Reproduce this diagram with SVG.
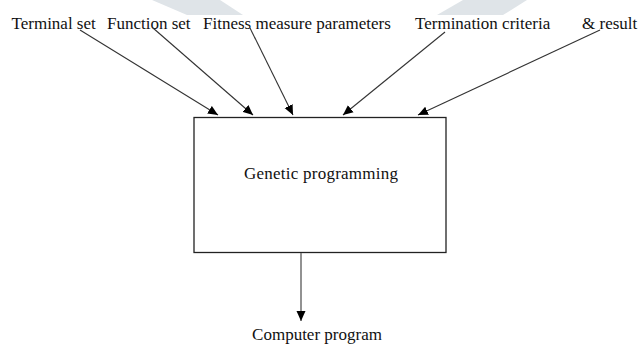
<svg xmlns="http://www.w3.org/2000/svg" width="640" height="345" viewBox="0 0 640 345">
  <style>
    .lbl { font-family: "Liberation Serif", "Times New Roman", serif; font-size: 17px; fill: #111; }
    .box { fill: #fff; stroke: #222; stroke-width: 1.3; }
    .conn { stroke: #333; stroke-width: 1.1; fill: none; marker-end: url(#tip); }
    .out { stroke: #777; stroke-width: 1.6; fill: none; marker-end: url(#tip); }
    .wm { fill: #dfe4e8; }
  </style>
  <defs>
    <marker id="tip" viewBox="0 0 10 10" refX="10" refY="5" markerWidth="10" markerHeight="10" markerUnits="userSpaceOnUse" orient="auto">
      <path d="M0,0.5 L10,5 L0,9.5 Z" fill="#000"/>
    </marker>
  </defs>
  <rect width="640" height="345" fill="#fff"/>

  <!-- faint background bands -->
  <polygon class="wm" points="152,0 220,0 243,15 187,15"/>
  <polygon class="wm" points="463,0 527,0 503,15 437,15"/>

  <g id="terminal-set"><text class="lbl" x="11.5" y="29">Terminal set</text></g>
  <g id="function-set"><text class="lbl" x="107" y="29">Function set</text></g>
  <g id="fitness-measure"><text class="lbl" x="203" y="29">Fitness measure parameters</text></g>
  <g id="termination-criteria"><text class="lbl" x="415" y="29">Termination criteria</text></g>
  <g id="result"><text class="lbl" x="582" y="29">&amp; result</text></g>

  <g id="genetic-programming">
    <rect class="box" x="194" y="117.5" width="252" height="135"/>
    <text class="lbl" x="321" y="179" text-anchor="middle" textLength="154">Genetic programming</text>
  </g>

  <g id="computer-program"><text class="lbl" x="317" y="340" text-anchor="middle">Computer program</text></g>

  <g id="connectors">
    <line class="conn" x1="80" y1="30" x2="218" y2="115"/>
    <line class="conn" x1="153" y1="28" x2="253" y2="115"/>
    <line class="conn" x1="250" y1="28" x2="293" y2="115"/>
    <line class="conn" x1="445" y1="32" x2="343" y2="115"/>
    <line class="conn" x1="600" y1="30" x2="418" y2="115"/>
    <line class="out" x1="301" y1="253" x2="301" y2="321"/>
  </g>
</svg>
